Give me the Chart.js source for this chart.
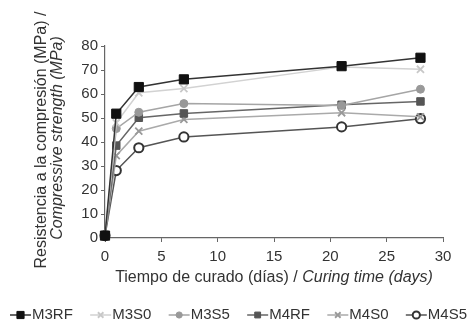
<!DOCTYPE html>
<html>
<head>
<meta charset="utf-8">
<script src="https://cdn.jsdelivr.net/npm/chart.js@4/dist/chart.umd.min.js"></script>
<style>
  html, body { margin: 0; padding: 0; background: #fff; }
  #wrap { width: 468px; height: 325px; position: relative; }
</style>
</head>
<body>
<div id="wrap"><canvas id="chart"></canvas></div>
<script>
// Días de curado
const dias = [0, 1, 3, 7, 21, 28];

// Resistencia a compresión (MPa)
const m3rf = [1, 51.8, 62.9, 66.1, 71.6, 75.1];
const m3s0 = [1, 48.0, 60.5, 62.3, 71.3, 70.3];
const m3s5 = [1, 45.6, 52.4, 56.0, 55.2, 62.0];
const m4rf = [1, 38.5, 50.1, 51.9, 55.5, 56.9];
const m4s0 = [1, 34.3, 44.5, 49.4, 52.2, 50.5];
const m4s5 = [1, 28.1, 37.6, 42.1, 46.3, 49.7];

const xTicks = [0, 5, 10, 15, 20, 25, 30];
const yTicks = [0, 10, 20, 30, 40, 50, 60, 70, 80];

const fontFam = '"Liberation Sans", Arial, sans-serif';

function serie(label, vals, line, fill, border, style, radius, bw) {
    return {
        label: label,
        data: dias.map((d, i) => ({ x: d, y: vals[i] })),
        borderColor: line,
        borderWidth: 1.5,
        pointStyle: style,
        pointRadius: radius,
        pointHoverRadius: radius,
        pointBackgroundColor: fill,
        pointBorderColor: border,
        pointBorderWidth: bw,
        tension: 0,
        clip: false
    };
}

const datasets = [
    serie('M3RF', m3rf, '#333', '#111', '#111', 'rect', 6.5, 1),
    serie('M3S0', m3s0, '#d2d2d2', '#c8c8c8', '#c8c8c8', 'crossRot', 5, 1.8),
    serie('M3S5', m3s5, '#a5a5a5', '#999', '#999', 'circle', 4, 1),
    serie('M4RF', m4rf, '#666', '#555', '#555', 'rect', 5.3, 1),
    serie('M4S0', m4s0, '#aaa', '#999', '#999', 'crossRot', 5, 1.8),
    serie('M4S5', m4s5, '#555', '#fff', '#333', 'circle', 4.6, 2)
];

// Títulos de ejes con parte en cursiva y leyenda con línea + marcador
const textos = {
    id: 'textos',
    afterDraw(chart) {
        const ctx = chart.ctx;
        const area = chart.chartArea;
        ctx.save();
        ctx.fillStyle = '#333';
        ctx.textBaseline = 'middle';

        // título eje Y (dos líneas, rotado)
        ctx.save();
        ctx.translate(42, 140);
        ctx.rotate(-Math.PI / 2);
        ctx.textAlign = 'center';
        ctx.font = '16px ' + fontFam;
        ctx.fillText('Resistencia a la compresión (MPa) /', 0, 0);
        ctx.font = 'italic 16px ' + fontFam;
        ctx.fillText('Compressive strength (MPa)', 2, 15.5);
        ctx.restore();

        // título eje X
        const a = 'Tiempo de curado (días) / ';
        const b = 'Curing time (days)';
        ctx.font = '16px ' + fontFam;
        const wa = ctx.measureText(a).width;
        ctx.font = 'italic 16px ' + fontFam;
        const wb = ctx.measureText(b).width;
        let x0 = (area.left + area.right) / 2 - (wa + wb) / 2;
        ctx.textAlign = 'left';
        ctx.font = '16px ' + fontFam;
        ctx.fillText(a, x0, 278);
        ctx.font = 'italic 16px ' + fontFam;
        ctx.fillText(b, x0 + wa, 278);

        // leyenda
        ctx.font = '15px ' + fontFam;
        const lineLen = 21, gapTxt = 1;
        const ws = chart.data.datasets.map(ds => ctx.measureText(ds.label).width);
        const left = 10, right = 467;
        const used = ws.reduce((s, w) => s + lineLen + gapTxt + w, 0);
        const gap = (right - left - used) / (ws.length - 1);
        let x = left;
        const y = 315;
        chart.data.datasets.forEach((ds, i) => {
            ctx.strokeStyle = ds.borderColor;
            ctx.lineWidth = 1.5;
            ctx.beginPath();
            ctx.moveTo(x, y);
            ctx.lineTo(x + lineLen, y);
            ctx.stroke();
            ctx.fillStyle = ds.pointBackgroundColor;
            ctx.strokeStyle = ds.pointBorderColor;
            ctx.lineWidth = ds.pointBorderWidth;
            Chart.helpers.drawPoint(ctx, {
                pointStyle: ds.pointStyle,
                radius: ds.pointRadius * 0.78,
                rotation: 0,
                borderWidth: ds.pointBorderWidth
            }, x + lineLen / 2, y);
            ctx.fillStyle = '#333';
            ctx.fillText(ds.label, x + lineLen + gapTxt, y);
            x += lineLen + gapTxt + ws[i] + gap;
        });
        ctx.restore();
    }
};

new Chart(document.getElementById('chart'), {
    type: 'line',
    data: { datasets: datasets },
    plugins: [textos],
    options: {
        responsive: true,
        maintainAspectRatio: false,
        animation: false,
        layout: { padding: { top: 46, right: 25, bottom: 0, left: 0 } },
        plugins: {
            legend: { display: false },
            tooltip: { enabled: false }
        },
        scales: {
            x: {
                type: 'linear',
                min: 0,
                max: 30,
                afterBuildTicks(scale) { scale.ticks = xTicks.map(v => ({ value: v })); },
                afterFit(scale) { scale.height = 87; },
                grid: {
                    drawOnChartArea: false,
                    drawTicks: true,
                    tickLength: 4,
                    color: '#666'
                },
                border: { color: '#666', width: 1.2 },
                ticks: {
                    color: '#333',
                    padding: 6,
                    maxRotation: 0,
                    font: { family: fontFam, size: 15 }
                }
            },
            y: {
                min: 0,
                max: 80,
                afterBuildTicks(scale) { scale.ticks = yTicks.map(v => ({ value: v })); },
                afterFit(scale) { scale.width = 105; },
                grid: {
                    drawOnChartArea: false,
                    drawTicks: true,
                    tickLength: 4,
                    color: '#666'
                },
                border: { color: '#666', width: 1.2 },
                ticks: {
                    color: '#333',
                    padding: 3,
                    font: { family: fontFam, size: 15 }
                }
            }
        }
    }
});
</script>
</body>
</html>
